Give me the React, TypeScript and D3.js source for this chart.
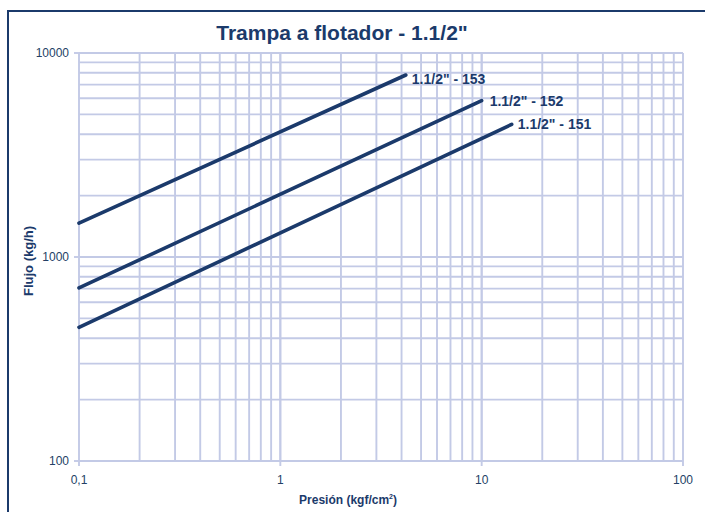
import * as d3 from "d3"
import { useEffect, useRef } from "react"

// Chart data (log-log, straight lines)
const seriesNames = ['1.1/2" - 153', '1.1/2" - 152', '1.1/2" - 151']
const pressures153 = [0.1, 4.2]
const flows153 = [1465, 7800]
const pressures152 = [0.1, 10]
const flows152 = [705, 5840]
const pressures151 = [0.1, 14.1]
const flows151 = [452, 4470]

const xTickValues = [0.1, 1, 10, 100]
const xTickLabels = ["0,1", "1", "10", "100"]
const yTickValues = [100, 1000, 10000]
const yTickLabels = ["100", "1000", "10000"]

const NAVY = "#1b3a6b"
const GRID = "#c3cae6"
const FONT = "'Liberation Sans', Arial, sans-serif"

const App = () => {
  const svgRef = useRef<SVGSVGElement | null>(null)

  useEffect(() => {
    if (!svgRef.current) return
    const root = d3.select(svgRef.current)
    root.selectAll("*").remove()

    const W = 705
    const H = 512
    const plot = { left: 79, right: 683, top: 53, bottom: 461 }

    root.attr("width", W).attr("height", H)

    // outer frame (runs off the right and bottom edges)
    root
      .append("rect")
      .attr("x", 8)
      .attr("y", 11)
      .attr("width", W + 20)
      .attr("height", H + 20)
      .attr("fill", "white")
      .attr("stroke", NAVY)
      .attr("stroke-width", 2)

    const x = d3.scaleLog().domain([0.1, 100]).range([plot.left, plot.right])
    const y = d3.scaleLog().domain([100, 10000]).range([plot.bottom, plot.top])

    // grid lines (every log step)
    const xGrid: number[] = []
    for (let d = 0.1; d < 100; d *= 10) {
      for (let k = 1; k <= 10; k++) xGrid.push(+(d * k).toPrecision(3))
    }
    const yGrid: number[] = []
    for (let d = 100; d < 10000; d *= 10) {
      for (let k = 1; k <= 10; k++) yGrid.push(d * k)
    }

    const grid = root.append("g")
    grid
      .selectAll(".gx")
      .data(xGrid)
      .enter()
      .append("line")
      .attr("x1", d => x(d))
      .attr("x2", d => x(d))
      .attr("y1", plot.top)
      .attr("y2", plot.bottom)
      .attr("stroke", GRID)
      .attr("stroke-width", 1.9)

    grid
      .selectAll(".gy")
      .data(yGrid)
      .enter()
      .append("line")
      .attr("x1", plot.left)
      .attr("x2", plot.right)
      .attr("y1", d => y(d))
      .attr("y2", d => y(d))
      .attr("stroke", GRID)
      .attr("stroke-width", 1.9)

    // tick marks at the decades
    grid
      .selectAll(".tx")
      .data(xTickValues)
      .enter()
      .append("line")
      .attr("x1", d => x(d))
      .attr("x2", d => x(d))
      .attr("y1", plot.bottom)
      .attr("y2", plot.bottom + 5)
      .attr("stroke", GRID)
      .attr("stroke-width", 1.9)

    grid
      .selectAll(".ty")
      .data(yTickValues)
      .enter()
      .append("line")
      .attr("x1", plot.left - 5)
      .attr("x2", plot.left)
      .attr("y1", d => y(d))
      .attr("y2", d => y(d))
      .attr("stroke", GRID)
      .attr("stroke-width", 1.9)

    // tick labels
    root
      .selectAll(".xl")
      .data(xTickValues)
      .enter()
      .append("text")
      .attr("x", d => x(d))
      .attr("y", plot.bottom + 23)
      .attr("text-anchor", "middle")
      .style("font-family", FONT)
      .style("font-size", "12px")
      .attr("fill", "#243f66")
      .text((_, i) => xTickLabels[i])

    root
      .selectAll(".yl")
      .data(yTickValues)
      .enter()
      .append("text")
      .attr("x", plot.left - 10)
      .attr("y", d => y(d) + 4)
      .attr("text-anchor", "end")
      .style("font-family", FONT)
      .style("font-size", "12px")
      .attr("fill", "#243f66")
      .text((_, i) => yTickLabels[i])

    // series lines
    const series = [
      { name: seriesNames[0], xs: pressures153, ys: flows153, dx: 6, dy: 9 },
      { name: seriesNames[1], xs: pressures152, ys: flows152, dx: 8, dy: 5 },
      { name: seriesNames[2], xs: pressures151, ys: flows151, dx: 6, dy: 5 },
    ]

    const line = d3
      .line<[number, number]>()
      .x(d => x(d[0]))
      .y(d => y(d[1]))

    series.forEach(s => {
      const pts = s.xs.map((v, i) => [v, s.ys[i]] as [number, number])
      root
        .append("path")
        .datum(pts)
        .attr("fill", "none")
        .attr("stroke", NAVY)
        .attr("stroke-width", 3.6)
        .attr("stroke-linecap", "round")
        .attr("d", line)

      const last = pts[pts.length - 1]
      root
        .append("text")
        .attr("x", x(last[0]) + s.dx)
        .attr("y", y(last[1]) + s.dy)
        .style("font-family", FONT)
        .style("font-size", "14px")
        .style("font-weight", "bold")
        .attr("fill", NAVY)
        .text(s.name)
    })

    // title
    root
      .append("text")
      .attr("x", 342)
      .attr("y", 40)
      .attr("text-anchor", "middle")
      .style("font-family", FONT)
      .style("font-size", "21px")
      .style("font-weight", "bold")
      .attr("fill", NAVY)
      .text('Trampa a flotador - 1.1/2"')

    // x axis title
    const xt = root
      .append("text")
      .attr("x", 348)
      .attr("y", 504)
      .attr("text-anchor", "middle")
      .style("font-family", "'Liberation Sans Narrow', 'Liberation Sans', Arial, sans-serif")
      .style("font-size", "12px")
      .style("font-weight", "bold")
      .attr("fill", NAVY)
    xt.append("tspan").text("Presión (kgf/cm")
    xt.append("tspan").attr("dy", -5).style("font-size", "7px").text("2")
    xt.append("tspan").attr("dy", 5).text(")")

    // y axis title
    root
      .append("text")
      .attr("transform", "translate(33,261) rotate(-90)")
      .attr("text-anchor", "middle")
      .style("font-family", FONT)
      .style("font-size", "13px")
      .style("font-weight", "bold")
      .attr("fill", NAVY)
      .text("Flujo (kg/h)")
  }, [])

  return (
    <div style={{ position: "absolute", left: 0, top: 0, width: 705, height: 512 }}>
      <svg ref={svgRef} style={{ display: "block" }} />
    </div>
  )
}

export default App
